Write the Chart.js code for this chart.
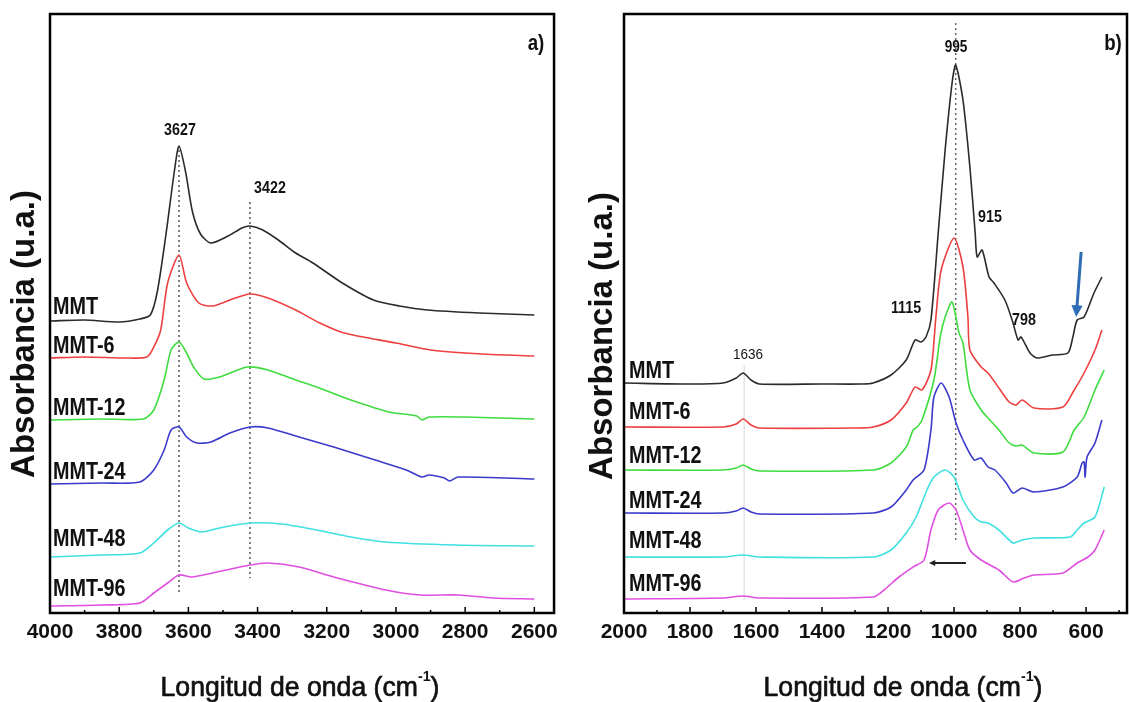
<!DOCTYPE html>
<html>
<head>
<meta charset="utf-8">
<script src="https://cdn.jsdelivr.net/npm/chart.js@4.4.0/dist/chart.umd.min.js"></script>
<style>
  body { margin: 0; background: #fff; }
  .panel { position: absolute; top: 0; }
</style>
</head>
<body>
<div class="panel" style="left:0"><canvas id="chartA" width="565" height="702"></canvas></div>
<div class="panel" style="left:565px"><canvas id="chartB" width="564" height="702"></canvas></div>
<script>
// sample names (same in both panels)
var samples = ['MMT', 'MMT-6', 'MMT-12', 'MMT-24', 'MMT-48', 'MMT-96'];
var colors = ['#2b2b2b', '#ee3f3f', '#3fdc3f', '#3a3acc', '#3fe0e0', '#e04fe0'];

// tick labels
var ticksA = [4000, 3800, 3600, 3400, 3200, 3000, 2800, 2600];
var ticksB = [2000, 1800, 1600, 1400, 1200, 1000, 800, 600];

// panel a) spectra, [wavenumber cm-1, absorbance u.a. (stacked)]
var aMMT = [[4000,2.92],[3900,2.93],[3800,2.91],[3740,2.94],[3710,2.98],[3690,3.21],[3665,3.78],[3640,4.43],[3627,4.67],[3608,4.41],[3588,4.01],[3565,3.79],[3535,3.70],[3485,3.77],[3445,3.85],[3422,3.87],[3385,3.83],[3340,3.73],[3290,3.60],[3240,3.50],[3155,3.30],[3065,3.13],[2990,3.07],[2910,3.03],[2760,3.00],[2600,2.98]];
var aMMT6 = [[4000,2.55],[3900,2.56],[3780,2.55],[3720,2.56],[3700,2.66],[3680,2.83],[3660,3.30],[3627,3.58],[3605,3.30],[3570,3.10],[3530,3.07],[3480,3.13],[3422,3.19],[3370,3.15],[3290,3.03],[3220,2.90],[3150,2.80],[3000,2.70],[2900,2.63],[2750,2.59],[2600,2.57]];
var aMMT12 = [[4000,1.93],[3850,1.94],[3730,1.94],[3700,2.03],[3670,2.33],[3650,2.63],[3627,2.71],[3605,2.60],[3585,2.46],[3555,2.34],[3510,2.36],[3430,2.46],[3370,2.43],[3290,2.33],[3230,2.26],[3130,2.13],[3020,2.01],[2940,1.97],[2925,1.93],[2905,1.96],[2800,1.96],[2600,1.94]];
var aMMT24 = [[4000,1.29],[3850,1.30],[3740,1.31],[3700,1.43],[3670,1.63],[3650,1.83],[3627,1.86],[3605,1.76],[3575,1.70],[3535,1.71],[3480,1.80],[3422,1.86],[3370,1.85],[3280,1.76],[3180,1.66],[3060,1.53],[2970,1.43],[2925,1.36],[2905,1.38],[2860,1.35],[2845,1.32],[2820,1.36],[2600,1.34]];
var aMMT48 = [[4000,0.56],[3850,0.58],[3740,0.60],[3700,0.70],[3660,0.83],[3627,0.90],[3600,0.85],[3560,0.81],[3510,0.85],[3422,0.90],[3330,0.89],[3230,0.83],[3130,0.76],[3030,0.71],[2830,0.68],[2600,0.67]];
var aMMT96 = [[4000,0.07],[3850,0.08],[3740,0.10],[3700,0.20],[3660,0.30],[3627,0.38],[3590,0.36],[3530,0.40],[3422,0.48],[3370,0.50],[3280,0.46],[3180,0.36],[3030,0.23],[2930,0.18],[2820,0.18],[2720,0.15],[2600,0.14]];

// panel b) spectra
var bMMT = [[2000,2.30],[1800,2.29],[1700,2.30],[1660,2.35],[1639,2.40],[1615,2.33],[1590,2.29],[1400,2.29],[1280,2.29],[1245,2.30],[1191,2.38],[1145,2.53],[1118,2.73],[1100,2.71],[1085,2.76],[1070,2.93],[1048,3.80],[1027,4.63],[1006,5.30],[995,5.48],[973,5.13],[952,4.46],[936,3.80],[930,3.56],[915,3.63],[894,3.36],[879,3.30],[846,3.13],[824,2.93],[806,2.73],[797,2.76],[770,2.60],[748,2.55],[703,2.58],[655,2.60],[640,2.76],[627,2.93],[606,2.96],[576,3.20],[552,3.36]];
var bMMT6 = [[2000,1.86],[1700,1.86],[1660,1.89],[1639,1.94],[1615,1.88],[1590,1.85],[1300,1.85],[1245,1.86],[1191,1.93],[1145,2.10],[1118,2.26],[1097,2.23],[1070,2.43],[1055,2.96],[1039,3.43],[1000,3.75],[973,3.46],[958,2.96],[952,2.63],[918,2.46],[897,2.40],[864,2.25],[833,2.11],[812,2.08],[794,2.13],[758,2.05],[670,2.06],[636,2.23],[606,2.40],[573,2.63],[552,2.83]];
var bMMT12 = [[2000,1.43],[1700,1.43],[1660,1.45],[1639,1.48],[1615,1.44],[1590,1.42],[1245,1.43],[1191,1.50],[1145,1.66],[1124,1.83],[1112,1.86],[1097,1.93],[1061,2.33],[1042,2.76],[1027,2.96],[1006,3.11],[985,2.80],[973,2.70],[952,2.23],[918,2.03],[897,1.95],[864,1.83],[833,1.70],[812,1.67],[794,1.68],[758,1.60],[670,1.61],[636,1.83],[606,1.96],[573,2.23],[545,2.43]];
var bMMT24 = [[2000,1.00],[1700,1.00],[1660,1.02],[1639,1.05],[1615,1.01],[1590,0.99],[1245,1.00],[1191,1.06],[1145,1.23],[1124,1.33],[1091,1.43],[1070,1.83],[1061,2.16],[1039,2.30],[1015,2.16],[994,1.90],[973,1.73],[939,1.53],[918,1.55],[897,1.46],[876,1.43],[842,1.30],[821,1.20],[794,1.25],[758,1.21],[670,1.26],[627,1.36],[612,1.50],[606,1.51],[603,1.36],[597,1.56],[573,1.70],[552,1.93]];
var bMMT48 = [[2000,0.56],[1700,0.56],[1639,0.58],[1590,0.56],[1245,0.56],[1191,0.63],[1145,0.80],[1115,0.96],[1082,1.23],[1061,1.36],[1027,1.43],[1000,1.36],[973,1.13],[939,0.96],[918,0.91],[897,0.90],[864,0.83],[821,0.70],[794,0.73],[758,0.75],[648,0.76],[627,0.83],[606,0.90],[573,0.96],[545,1.26]];
var bMMT96 = [[2000,0.14],[1700,0.15],[1639,0.17],[1590,0.15],[1245,0.16],[1212,0.23],[1167,0.36],[1124,0.46],[1091,0.53],[1070,0.83],[1048,1.03],[1015,1.10],[994,1.03],[973,0.83],[952,0.63],[918,0.53],[864,0.43],[821,0.31],[788,0.35],[758,0.38],[670,0.40],[627,0.50],[594,0.56],[573,0.63],[545,0.83]];

var seriesA = [aMMT, aMMT6, aMMT12, aMMT24, aMMT48, aMMT96];
var seriesB = [bMMT, bMMT6, bMMT12, bMMT24, bMMT48, bMMT96];

var FONT = "'Liberation Sans', Arial, sans-serif";

function makeDatasets(series) {
  return series.map(function (s, i) {
    return {
      label: samples[i],
      data: s.map(function (p) { return { x: p[0], y: p[1] }; }),
      borderColor: colors[i],
      borderWidth: 1.6,
      fill: false
    };
  });
}

// squeezed text, the figure uses a narrow bold face
function drawText(ctx, t) {
  ctx.save();
  ctx.font = t.font;
  ctx.textAlign = t.align || 'center';
  ctx.translate(t.x, t.y);
  ctx.scale(t.sx || 1, 1);
  ctx.fillText(t.text, 0, 0);
  ctx.restore();
}

// frame, inward ticks, guide lines, arrows and text
function decor(cfg) {
  return {
    id: 'decor',
    beforeDatasetsDraw: function (chart) {
      var ctx = chart.ctx, xs = chart.scales.x, ys = chart.scales.y;
      cfg.guides.forEach(function (g) {
        ctx.save();
        ctx.strokeStyle = g.color;
        ctx.lineWidth = g.width;
        ctx.setLineDash(g.dash);
        var px = xs.getPixelForValue(g.x);
        ctx.beginPath();
        ctx.moveTo(px, ys.getPixelForValue(g.y1));
        ctx.lineTo(px, ys.getPixelForValue(g.y2));
        ctx.stroke();
        ctx.restore();
      });
    },
    afterDatasetsDraw: function (chart) {
      var ctx = chart.ctx, a = chart.chartArea, xs = chart.scales.x, ys = chart.scales.y;
      ctx.save();
      ctx.strokeStyle = '#000';
      ctx.lineWidth = 2.5;
      ctx.strokeRect(a.left, a.top, a.right - a.left, a.bottom - a.top);
      // ticks every 100 cm-1, pointing inward
      ctx.lineWidth = 1.5;
      for (var v = cfg.tickFrom; v >= cfg.tickTo; v -= 100) {
        var px = xs.getPixelForValue(v);
        var len = (v % 200 === 0) ? 6 : 3;
        ctx.beginPath();
        ctx.moveTo(px, a.bottom);
        ctx.lineTo(px, a.bottom - len);
        ctx.stroke();
      }
      // arrows
      cfg.arrows.forEach(function (ar) {
        var x1 = xs.getPixelForValue(ar.x1), y1 = ys.getPixelForValue(ar.y1);
        var x2 = xs.getPixelForValue(ar.x2), y2 = ys.getPixelForValue(ar.y2);
        var ang = Math.atan2(y2 - y1, x2 - x1);
        ctx.strokeStyle = ar.color;
        ctx.fillStyle = ar.color;
        ctx.lineWidth = ar.width;
        ctx.beginPath();
        ctx.moveTo(x1, y1);
        ctx.lineTo(x2 - Math.cos(ang) * ar.head * 0.8, y2 - Math.sin(ang) * ar.head * 0.8);
        ctx.stroke();
        ctx.beginPath();
        ctx.moveTo(x2, y2);
        ctx.lineTo(x2 - ar.head * Math.cos(ang - 0.45), y2 - ar.head * Math.sin(ang - 0.45));
        ctx.lineTo(x2 - ar.head * Math.cos(ang + 0.45), y2 - ar.head * Math.sin(ang + 0.45));
        ctx.closePath();
        ctx.fill();
      });
      // text
      ctx.fillStyle = '#111';
      ctx.textBaseline = 'middle';
      cfg.texts.forEach(function (t) { drawText(ctx, t); });
      // y title
      ctx.save();
      ctx.translate(cfg.yTitle.x, cfg.yTitle.y);
      ctx.rotate(-Math.PI / 2);
      ctx.font = 'bold 33px ' + FONT;
      ctx.textAlign = 'center';
      ctx.fillText('Absorbancia (u.a.)', 0, 0);
      ctx.restore();
      // x title with superscript
      var main = 'Longitud de onda (cm', sup = '-1', end = ')';
      var f1 = '28px ' + FONT, f2 = 'bold 15px ' + FONT, sx = 0.95;
      ctx.font = f1;
      var w1 = ctx.measureText(main).width, w3 = ctx.measureText(end).width;
      ctx.font = f2;
      var w2 = ctx.measureText(sup).width;
      ctx.translate(cfg.xTitle.x, cfg.xTitle.y);
      ctx.scale(sx, 1);
      var x0 = -(w1 + w2 + w3) / 2;
      ctx.textAlign = 'left';
      ctx.strokeStyle = '#111';
      ctx.lineWidth = 0.7;
      ctx.font = f1;
      ctx.fillText(main, x0, 0);
      ctx.strokeText(main, x0, 0);
      ctx.font = f2;
      ctx.fillText(sup, x0 + w1, -11);
      ctx.font = f1;
      ctx.fillText(end, x0 + w1 + w2, 0);
      ctx.strokeText(end, x0 + w1 + w2, 0);
      ctx.restore();
    }
  };
}

function makeChart(id, series, tickVals, xmin, xmax, pad, cfg) {
  return new Chart(document.getElementById(id), {
    type: 'line',
    data: { datasets: makeDatasets(series) },
    options: {
      responsive: false,
      animation: false,
      layout: { padding: pad },
      elements: { point: { radius: 0 }, line: { tension: 0.25 } },
      plugins: { legend: { display: false }, tooltip: { enabled: false } },
      scales: {
        x: {
          type: 'linear',
          reverse: true,
          min: xmin,
          max: xmax,
          grid: { display: false, drawTicks: false },
          border: { display: false },
          afterBuildTicks: function (s) { s.ticks = tickVals.map(function (v) { return { value: v }; }); },
          ticks: {
            autoSkip: false, maxRotation: 0, padding: 7, color: '#111',
            font: { family: FONT, size: 21, weight: 'bold' },
            callback: function (v) { return String(v); }
          },
          afterFit: function (s) { s.height = 89; }
        },
        y: { display: false, min: 0, max: 5.99 }
      }
    },
    plugins: [decor(cfg)]
  });
}

var labelFont = 'bold 23px ' + FONT;
var peakFont = 'bold 17px ' + FONT;

var chartA = makeChart('chartA', seriesA, ticksA, 2543, 4000, { left: 50, top: 14, right: 8, bottom: 0 }, {
  tickFrom: 3900, tickTo: 2600,
  guides: [
    { x: 3627, y1: 4.63, y2: 0.18, color: '#555', width: 1.5, dash: [2, 3] },
    { x: 3422, y1: 4.11, y2: 0.35, color: '#555', width: 1.5, dash: [2, 3] }
  ],
  arrows: [],
  texts: [
    { text: 'a)', x: 536, y: 44, font: 'bold 22px ' + FONT, sx: 0.85 },
    { text: '3627', x: 180, y: 130, font: peakFont, sx: 0.84 },
    { text: '3422', x: 270, y: 188, font: peakFont, sx: 0.84 },
    { text: samples[0], x: 53, y: 308, font: labelFont, sx: 0.86, align: 'left' },
    { text: samples[1], x: 53, y: 347, font: labelFont, sx: 0.86, align: 'left' },
    { text: samples[2], x: 53, y: 409, font: labelFont, sx: 0.86, align: 'left' },
    { text: samples[3], x: 53, y: 473, font: labelFont, sx: 0.86, align: 'left' },
    { text: samples[4], x: 53, y: 540, font: labelFont, sx: 0.86, align: 'left' },
    { text: samples[5], x: 53, y: 590, font: labelFont, sx: 0.86, align: 'left' }
  ],
  yTitle: { x: 25, y: 334 },
  xTitle: { x: 300, y: 688 }
});

var chartB = makeChart('chartB', seriesB, ticksB, 476, 2000, { left: 59, top: 14, right: 2, bottom: 0 }, {
  tickFrom: 1900, tickTo: 500,
  guides: [
    { x: 1636, y1: 2.48, y2: 0.13, color: '#d6d6d6', width: 1, dash: [] },
    { x: 995, y1: 5.90, y2: 0.70, color: '#666', width: 1.5, dash: [2, 3] }
  ],
  arrows: [
    { x1: 615, y1: 3.61, x2: 630, y2: 2.96, color: '#2e6db4', width: 3, head: 13 },
    { x1: 964, y1: 0.50, x2: 1076, y2: 0.50, color: '#222', width: 2, head: 7 }
  ],
  texts: [
    { text: 'b)', x: 548, y: 44, font: 'bold 22px ' + FONT, sx: 0.85 },
    { text: '995', x: 391, y: 47, font: peakFont, sx: 0.8 },
    { text: '915', x: 425, y: 217, font: peakFont, sx: 0.84 },
    { text: '1115', x: 341, y: 308, font: peakFont, sx: 0.84 },
    { text: '798', x: 459, y: 320, font: peakFont, sx: 0.84 },
    { text: '1636', x: 183, y: 355, font: '15px ' + FONT, sx: 0.9 },
    { text: samples[0], x: 64, y: 372, font: labelFont, sx: 0.86, align: 'left' },
    { text: samples[1], x: 64, y: 413, font: labelFont, sx: 0.86, align: 'left' },
    { text: samples[2], x: 64, y: 457, font: labelFont, sx: 0.86, align: 'left' },
    { text: samples[3], x: 64, y: 502, font: labelFont, sx: 0.86, align: 'left' },
    { text: samples[4], x: 64, y: 542, font: labelFont, sx: 0.86, align: 'left' },
    { text: samples[5], x: 64, y: 585, font: labelFont, sx: 0.86, align: 'left' }
  ],
  yTitle: { x: 38, y: 336 },
  xTitle: { x: 338, y: 688 }
});
</script>
</body>
</html>
